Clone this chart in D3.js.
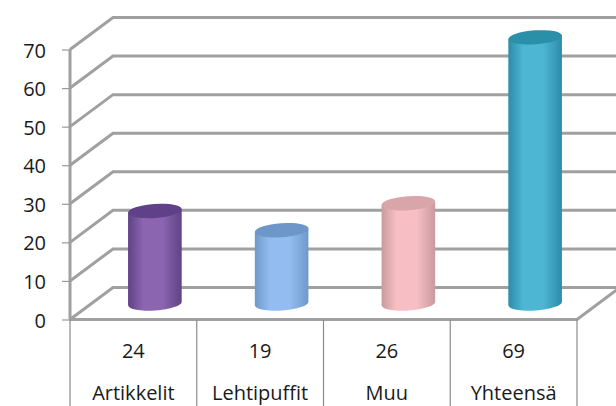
<!DOCTYPE html>
<html>
<head>
<meta charset="utf-8">
<script src="https://d3js.org/d3.v7.min.js"></script>
<style>
html, body { margin: 0; padding: 0; background: #fff; overflow: hidden; }
svg { display: block; }
text { font-family: "Open Sans", sans-serif; font-size: 20px; fill: #1a1a1a; }
</style>
</head>
<body>
<div id="chart"></div>
<script>
var categories = ["Artikkelit", "Lehtipuffit", "Muu", "Yhteensä"]
var values = [24, 19, 26, 69]
var yTicks = [0, 10, 20, 30, 40, 50, 60, 70]
var sideColors = ["#5f4285", "#6f98cb", "#c99a9e", "#2d8cA8"]
var midColors = ["#8b65b0", "#93bcf0", "#f7bfc4", "#4db6d3"]
var topColors = ["#5f4189", "#6c97c8", "#d8a5a9", "#2b90aa"]

var width = 616
var height = 406
var depthX = 43
var depthY = 32
var tilt = 4 * Math.PI / 180

var svg = d3.select("#chart")
    .append("svg")
    .attr("width", width)
    .attr("height", height)

var defs = svg.append("defs")
defs.append("filter").attr("id", "soft")
    .append("feGaussianBlur").attr("stdDeviation", 0.7)

categories.forEach((c, i) => {
    var g = defs.append("linearGradient").attr("id", "body" + i)
    g.append("stop").attr("offset", "0%").attr("stop-color", sideColors[i])
    g.append("stop").attr("offset", "28%").attr("stop-color", midColors[i])
    g.append("stop").attr("offset", "65%").attr("stop-color", midColors[i])
    g.append("stop").attr("offset", "100%").attr("stop-color", sideColors[i])
})

var x = d3.scaleBand()
    .domain(categories)
    .range([70, 577])

var y = d3.scaleLinear()
    .domain([0, 70])
    .range([319.5, 49.5])

var grid = svg.append("g").attr("filter", "url(#soft)")

// walls: each gridline runs back from the axis, then along the back wall
grid.selectAll(".grid")
    .data(yTicks)
    .enter()
    .append("path")
    .attr("class", "grid")
    .attr("fill", "none")
    .attr("stroke", "#a0a0a0")
    .attr("stroke-width", 3)
    .attr("d", d => `M${x.range()[0]},${y(d)}l${depthX},${-depthY}H${width + 2}`)

// floor front edge and right edge
grid.append("path")
    .attr("fill", "none")
    .attr("stroke", "#a0a0a0")
    .attr("stroke-width", 3)
    .attr("d", `M${x.range()[0]},${y(0)}H${x.range()[1]}l${depthX},${-depthY}`)

grid.append("line")
    .attr("x1", x.range()[0]).attr("x2", x.range()[0])
    .attr("y1", y(70)).attr("y2", y(0))
    .attr("stroke", "#a0a0a0")
    .attr("stroke-width", 3)

// cylinders
var rx = x.bandwidth() * 0.212
var ry = 7
var dx = rx * Math.cos(tilt)
var dy = rx * Math.sin(tilt)
var rotDeg = -tilt * 180 / Math.PI
var baseY = y(0) - depthY / 2
var barH = d3.scaleLinear().domain([0, 70]).range([0, y(0) - y(70)])

var bars = svg.append("g")
    .attr("filter", "url(#soft)")
    .selectAll(".bar")
    .data(values)
    .enter()
    .append("g")
    .attr("class", "bar")
    .attr("transform", (d, i) => `translate(${x(categories[i]) + x.bandwidth() / 2 + depthX / 2},0)`)

bars.append("path")
    .attr("fill", (d, i) => `url(#body${i})`)
    .attr("d", d => {
        var t = baseY - barH(d)
        return `M${-dx},${t + dy}L${-dx},${baseY + dy}` +
            `A${rx},${ry} ${rotDeg} 0 0 ${dx},${baseY - dy}` +
            `L${dx},${t - dy}Z`
    })

bars.append("ellipse")
    .attr("rx", rx)
    .attr("ry", ry)
    .attr("fill", (d, i) => topColors[i])
    .attr("transform", d => `translate(0,${baseY - barH(d)}) rotate(${rotDeg})`)

// y axis
var yAxis = d3.axisLeft(y)
    .tickValues(yTicks)
    .tickSize(8)
    .tickPadding(16)

var yAxisG = svg.append("g")
    .attr("transform", `translate(${x.range()[0]},0)`)
    .call(yAxis)
yAxisG.select(".domain").remove()
yAxisG.selectAll("line").attr("stroke", "#999").attr("stroke-width", 1.2)
yAxisG.selectAll("text").attr("dy", "0.38em").style("font-size", "20px")
    .style("font-family", "\"Open Sans\", sans-serif").attr("fill", "#1a1a1a")

// data table under the chart
var dividers = categories.map(c => x(c)).concat([x.range()[1]])
svg.selectAll(".divider")
    .data(dividers)
    .enter()
    .append("line")
    .attr("class", "divider")
    .attr("x1", d => d).attr("x2", d => d)
    .attr("y1", y(0)).attr("y2", height)
    .attr("stroke", "#8c8c8c")
    .attr("stroke-width", 1.2)

svg.selectAll(".val")
    .data(values)
    .enter()
    .append("text")
    .attr("class", "val")
    .attr("text-anchor", "middle")
    .attr("x", (d, i) => x(categories[i]) + x.bandwidth() / 2)
    .attr("y", 358)
    .text(d => d)

svg.selectAll(".cat")
    .data(categories)
    .enter()
    .append("text")
    .attr("class", "cat")
    .attr("text-anchor", "middle")
    .attr("x", d => x(d) + x.bandwidth() / 2)
    .attr("y", 400)
    .text(d => d)
</script>
</body>
</html>
